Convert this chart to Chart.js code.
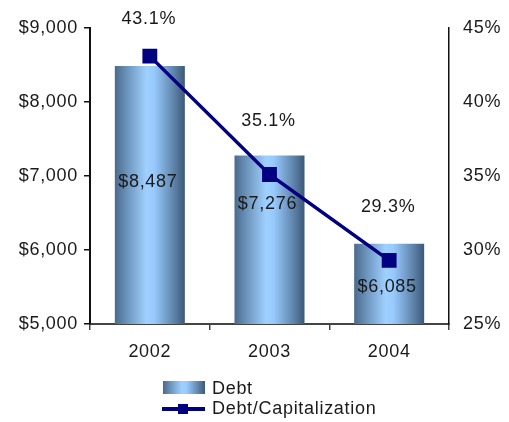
<!DOCTYPE html>
<html>
<head>
<meta charset="utf-8">
<script src="https://cdn.jsdelivr.net/npm/chart.js@4.4.1/dist/chart.umd.min.js"></script>
<style>
  html, body { margin: 0; padding: 0; background: #fff; }
  #wrap { position: relative; width: 509px; height: 422px; }
  #chart { display: block; }
  .leg-row { position: absolute; left: 160px; height: 20px; display: flex; align-items: center;
             font: 18px "Liberation Sans", Arial, sans-serif; letter-spacing: 0.7px; color: #1a1a1a; }
  .leg-icon { position: relative; width: 46px; height: 20px; margin-right: 6px; }
  .sw-bar { position: absolute; left: 3px; top: 3px; width: 42px; height: 13px; }
  .sw-line { position: absolute; left: 2px; top: 9px; width: 43px; height: 4px; background: #000080; }
  .sw-pt { position: absolute; left: 18px; top: 6px; width: 10px; height: 10px; background: #000080; }
</style>
</head>
<body>
<div id="wrap">
  <canvas id="chart" width="509" height="422"></canvas>
  <div id="legend"></div>
</div>
<script>
// Fiscal years shown on the category axis
const years = ['2002', '2003', '2004'];
// Total debt, $ millions
const debt = [8487, 7276, 6085];
// Debt as a share of total capitalization, %
const debtToCap = [43.1, 35.1, 29.3];
// Axis tick labels
const debtTicks = ['$5,000', '$6,000', '$7,000', '$8,000', '$9,000'];
const pctTicks = ['25%', '30%', '35%', '40%', '45%'];
const seriesNames = ['Debt', 'Debt/Capitalization'];

const FONT = { family: '"Liberation Sans", Arial, sans-serif', size: 18 };
const SPACING = '0.7px';
const TEXT = '#1a1a1a';
const NAVY = '#000080';

// cylinder-like horizontal shading for the bars
const SHADE = [[0, '#4a6a8c'], [0.18, '#6d95bd'], [0.45, '#9fd0ff'], [0.56, '#98caff'], [0.85, '#5d82a8'], [1, '#3c5876']];
function barGradient(ctx, x0, x1) {
  const g = ctx.createLinearGradient(x0, 0, x1, 0);
  SHADE.forEach(([p, c]) => g.addColorStop(p, c));
  return g;
}

const wideText = {
  id: 'wideText',
  beforeLayout(chart) { chart.ctx.letterSpacing = SPACING; },
  beforeDraw(chart) { chart.ctx.letterSpacing = SPACING; }
};

// give every bar its own gradient (resolved options are shared between bars)
const shading = {
  id: 'shading',
  beforeDatasetsDraw(chart) {
    const meta = chart.getDatasetMeta(0);
    meta.data.forEach(bar => {
      const o = {};
      for (const k in bar.options) o[k] = bar.options[k];
      o.backgroundColor = barGradient(chart.ctx, bar.x - bar.width / 2, bar.x + bar.width / 2);
      bar.options = o;
    });
  }
};

// value labels: debt inside the bars, ratio above the line markers
const valueLabels = {
  id: 'valueLabels',
  barLabelAt: [0.55, 0.71, 0.46],
  pctLift: 53,
  pctMinY: 19,
  afterDatasetDraw(chart, args) {
    const ctx = chart.ctx;
    ctx.save();
    ctx.font = `${FONT.size}px ${FONT.family}`;
    ctx.fillStyle = TEXT;
    ctx.textAlign = 'center';
    ctx.textBaseline = 'middle';
    if (args.index === 0) {
      const yScale = chart.scales.y;
      const floor = yScale.getPixelForValue(yScale.min);
      args.meta.data.forEach((bar, i) => {
        const y = floor - this.barLabelAt[i] * (floor - bar.y);
        ctx.fillText('$' + debt[i].toLocaleString('en-US'), bar.x - 2, y);
      });
    } else if (args.index === 1) {
      args.meta.data.forEach((pt, i) => {
        const y = Math.max(pt.y - this.pctLift, this.pctMinY);
        ctx.fillText(debtToCap[i].toFixed(1) + '%', pt.x - 1, y);
      });
    }
    ctx.restore();
  }
};

const chart = new Chart(document.getElementById('chart'), {
  data: {
    labels: years,
    datasets: [
      {
        type: 'bar',
        label: seriesNames[0],
        data: debt,
        yAxisID: 'y',
        backgroundColor: '#7fb0e0',
        borderWidth: 0,
        barPercentage: 0.585,
        categoryPercentage: 1,
        order: 2
      },
      {
        type: 'line',
        label: seriesNames[1],
        data: debtToCap,
        yAxisID: 'y1',
        borderColor: NAVY,
        borderWidth: 3.5,
        pointStyle: 'rect',
        pointRadius: 10.5,
        pointBackgroundColor: NAVY,
        pointBorderWidth: 0,
        tension: 0,
        order: 1
      }
    ]
  },
  options: {
    responsive: false,
    animation: false,
    events: [],
    layout: { padding: { top: 28, bottom: 58, left: 0, right: 0 } },
    plugins: {
      legend: { display: false },
      tooltip: { enabled: false }
    },
    scales: {
      x: {
        offset: true,
        grid: { drawOnChartArea: false, offset: true, tickLength: 6, color: '#444', lineWidth: 1.5 },
        border: { color: '#444', width: 2 },
        ticks: { color: TEXT, font: FONT, padding: 11 },
        afterFit(s) { s.height = 40; }
      },
      y: {
        position: 'left',
        min: 5000, max: 9000,
        grid: { drawOnChartArea: false, tickLength: 6, color: '#111', lineWidth: 1.5 },
        border: { color: '#111', width: 2 },
        ticks: { stepSize: 1000, color: TEXT, font: FONT, padding: 6,
                 callback: (v, i) => debtTicks[i] },
        afterFit(s) { s.width = 90; }
      },
      y1: {
        position: 'right',
        min: 25, max: 45,
        grid: { drawOnChartArea: false, drawTicks: false },
        border: { color: '#111', width: 1.5 },
        ticks: { stepSize: 5, color: TEXT, font: FONT, padding: 14,
                 callback: (v, i) => pctTicks[i] },
        afterFit(s) { s.width = 60; }
      }
    }
  },
  plugins: [wideText, shading, valueLabels]
});

// legend stacked under the plot
const legend = document.getElementById('legend');
chart.data.datasets.forEach((ds, i) => {
  const row = document.createElement('div');
  row.className = 'leg-row';
  row.style.top = (i === 0 ? 378 : 398) + 'px';
  const icon = document.createElement('div');
  icon.className = 'leg-icon';
  if (ds.type === 'bar') {
    const sw = document.createElement('div');
    sw.className = 'sw-bar';
    sw.style.background = 'linear-gradient(to right,' +
      SHADE.map(([p, c]) => `${c} ${p * 100}%`).join(',') + ')';
    icon.appendChild(sw);
  } else {
    const ln = document.createElement('div'); ln.className = 'sw-line';
    const pt = document.createElement('div'); pt.className = 'sw-pt';
    icon.appendChild(ln); icon.appendChild(pt);
  }
  const txt = document.createElement('span');
  txt.textContent = ds.label;
  row.appendChild(icon);
  row.appendChild(txt);
  legend.appendChild(row);
});
</script>
</body>
</html>
